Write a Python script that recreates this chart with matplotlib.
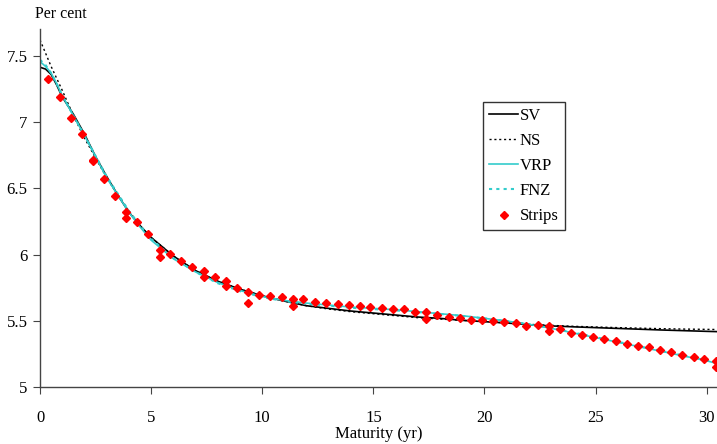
import numpy as np
import matplotlib
matplotlib.use('Agg')
import matplotlib.pyplot as plt

plt.rcParams['font.family'] = ['Liberation Serif', 'DejaVu Serif']

# fitted curves
mat = [0, 0.25, 0.5, 0.75, 1, 1.5, 2, 2.5, 3, 3.5, 4, 4.5, 5, 6, 7, 8, 9, 10,
       11, 12, 13, 14, 15, 16, 17, 18, 19, 20, 21, 22, 23, 24, 25, 26, 27, 28,
       29, 30, 30.45]
sv = [7.414, 7.40, 7.36, 7.28, 7.19, 7.06, 6.91, 6.74, 6.59, 6.45, 6.32, 6.22,
      6.13, 5.99, 5.88, 5.80, 5.74, 5.69, 5.65, 5.615, 5.595, 5.575, 5.56,
      5.545, 5.53, 5.52, 5.505, 5.495, 5.485, 5.472, 5.463, 5.456, 5.45, 5.444,
      5.438, 5.432, 5.427, 5.422, 5.42]
ns = [7.62, 7.52, 7.42, 7.33, 7.24, 7.05, 6.88, 6.73, 6.58, 6.45, 6.33, 6.22,
      6.13, 5.99, 5.88, 5.80, 5.74, 5.69, 5.65, 5.615, 5.59, 5.57, 5.555, 5.54,
      5.525, 5.515, 5.505, 5.495, 5.485, 5.475, 5.467, 5.46, 5.455, 5.45,
      5.446, 5.442, 5.439, 5.437, 5.436]
vrp = [7.457, 7.42, 7.37, 7.29, 7.20, 7.05, 6.90, 6.74, 6.58, 6.45, 6.32, 6.21,
       6.11, 5.97, 5.87, 5.79, 5.73, 5.685, 5.655, 5.635, 5.62, 5.605, 5.595,
       5.585, 5.57, 5.555, 5.54, 5.52, 5.50, 5.475, 5.445, 5.41, 5.375, 5.34,
       5.305, 5.27, 5.235, 5.20, 5.18]
fnz = [7.47, 7.43, 7.37, 7.29, 7.20, 7.05, 6.90, 6.745, 6.59, 6.46, 6.33, 6.22,
       6.12, 5.975, 5.87, 5.785, 5.725, 5.68, 5.65, 5.63, 5.615, 5.60, 5.59,
       5.58, 5.567, 5.553, 5.538, 5.52, 5.50, 5.476, 5.447, 5.413, 5.378, 5.343,
       5.308, 5.273, 5.238, 5.203, 5.185]

# strips yields
strip_x = [0.37, 0.9, 1.38, 1.88, 2.4, 2.4, 2.88, 3.38, 3.87, 3.87, 4.37, 4.86,
           5.4, 5.4, 5.86, 6.35, 6.85, 7.39, 7.39, 7.88, 8.38, 8.38, 8.87, 9.37,
           9.37, 9.86, 10.36, 10.9, 11.4, 11.4, 11.85, 12.39, 12.88, 13.39,
           13.89, 14.38, 14.86, 15.39, 15.89, 16.4, 16.89, 17.39, 17.39, 17.87,
           18.39, 18.89, 19.4, 19.9, 20.39, 20.9, 21.4, 21.89, 22.4, 22.9, 22.9,
           23.39, 23.9, 24.4, 24.9, 25.4, 25.9, 26.4, 26.9, 27.4, 27.9, 28.4,
           28.9, 29.43, 29.9, 30.4, 30.4]
strip_y = [7.327, 7.191, 7.033, 6.913, 6.717, 6.704, 6.569, 6.446, 6.324, 6.275,
           6.247, 6.154, 6.035, 5.985, 6.005, 5.955, 5.905, 5.877, 5.834, 5.834,
           5.80, 5.764, 5.749, 5.72, 5.633, 5.698, 5.686, 5.683, 5.666, 5.613,
           5.664, 5.646, 5.633, 5.626, 5.62, 5.613, 5.608, 5.60, 5.593, 5.588,
           5.568, 5.568, 5.517, 5.545, 5.532, 5.52, 5.51, 5.51, 5.502, 5.495,
           5.485, 5.465, 5.472, 5.465, 5.425, 5.437, 5.412, 5.397, 5.377, 5.362,
           5.347, 5.329, 5.314, 5.302, 5.281, 5.264, 5.244, 5.229, 5.213, 5.196,
           5.151]

fig = plt.figure(figsize=(7.17, 4.44), dpi=100)
ax = fig.add_axes([0.0558, 0.1277, 0.9438, 0.8063])

cyan = '#33cccc'
ax.plot(mat, sv, color='black', lw=1.2, label='SV')
ax.plot(mat, ns, color='black', lw=1.0, ls=(0, (1.5, 2)), label='NS')
ax.plot(mat, vrp, color=cyan, lw=1.2, label='VRP')
ax.plot(mat, fnz, color=cyan, lw=1.5, ls=(0, (1.5, 2)), label='FNZ')
ax.plot(strip_x, strip_y, ls='none', marker='D', ms=4.5, color='red',
        mec='red', label='Strips')

ax.set_xlim(0, 30.45)
ax.set_ylim(5, 7.7)
ax.set_xticks([0, 5, 10, 15, 20, 25, 30])
ax.set_yticks([5, 5.5, 6, 6.5, 7, 7.5])
ax.set_yticklabels(['5', '5.5', '6', '6.5', '7', '7.5'])

for s in ['top', 'right']:
    ax.spines[s].set_visible(False)
for s in ['left', 'bottom']:
    ax.spines[s].set_color('#444444')
    ax.spines[s].set_linewidth(1.0)
ax.tick_params(axis='x', direction='out', length=5, pad=11, labelsize=12,
               color='#444444')
ax.tick_params(axis='y', direction='out', length=5, pad=4, labelsize=12,
               color='#444444')

ax.set_xlabel('Maturity (yr)', fontsize=12, labelpad=0)
fig.text(0.049, 0.968, 'Per cent', fontsize=11.5, ha='left', va='center')

leg = ax.legend(loc='upper left', bbox_to_anchor=(0.655, 0.797),
                borderaxespad=0, fontsize=12, frameon=True, fancybox=False,
                handlelength=1.75, handletextpad=0.1, labelspacing=0.55,
                borderpad=0.35, numpoints=1)
leg.get_frame().set_edgecolor('black')
leg.get_frame().set_linewidth(1.0)

plt.savefig('out.png', dpi=100)
